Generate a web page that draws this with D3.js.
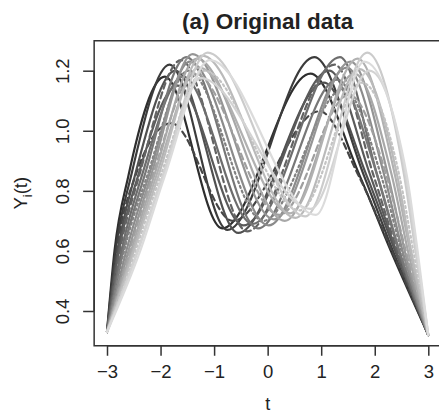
<!DOCTYPE html>
<html>
<head>
<meta charset="utf-8">
<script src="https://cdn.jsdelivr.net/npm/d3@7"></script>
<style>
  body { margin: 0; background: #fff; }
  text { font-family: "Liberation Sans", Arial, sans-serif; fill: #222; }
</style>
</head>
<body>
<div id="chart"></div>
<script>
const width = 439;
const height = 416;

const xTicks = [-3, -2, -1, 0, 1, 2, 3];
const yTicks = [0.4, 0.6, 0.8, 1.0, 1.2];

// one row per curve, dark (early) to light (late)
const grays = ["#2e2e2e", "#3c3c3c", "#454545", "#505050", "#5a5a5a", "#636363", "#6d6d6d",
  "#777777", "#818181", "#8b8b8b", "#959595", "#9f9f9f", "#a8a8a8", "#b1b1b1",
  "#bababa", "#c3c3c3", "#cbcbcb", "#d3d3d3", "#dbdbdb"];
const dashes = ["", "", "6,4", "", "", "6,4", "", "", "2,3", "", "", "6,4", "", "",
  "", "2,3", "", "", ""];

const curveT = [
  [-3, -2.86, -2.60, -1.92, -0.85, 0.80, 1.72, 2.30, 3],
  [-3, -2.84, -2.55, -1.83, -0.75, 0.87, 1.80, 2.34, 3],
  [-3, -2.82, -2.47, -1.80, -0.65, 0.97, 1.70, 2.32, 3],
  [-3, -2.80, -2.48, -1.72, -0.55, 1.05, 1.85, 2.38, 3],
  [-3, -2.78, -2.42, -1.68, -0.45, 1.15, 1.92, 2.40, 3],
  [-3, -2.76, -2.40, -1.62, -0.38, 1.25, 1.98, 2.42, 3],
  [-3, -2.73, -2.35, -1.58, -0.28, 1.35, 2.05, 2.45, 3],
  [-3, -2.70, -2.30, -1.52, -0.18, 1.30, 2.05, 2.46, 3],
  [-3, -2.68, -2.25, -1.48, -0.08, 1.42, 2.12, 2.50, 3],
  [-3, -2.64, -2.22, -1.45, 0.02, 1.48, 2.18, 2.52, 3],
  [-3, -2.60, -2.18, -1.40, 0.12, 1.55, 2.25, 2.56, 3],
  [-3, -2.58, -2.15, -1.36, 0.22, 1.52, 2.22, 2.58, 3],
  [-3, -2.55, -2.12, -1.32, 0.32, 1.62, 2.32, 2.62, 3],
  [-3, -2.52, -2.08, -1.28, 0.42, 1.68, 2.38, 2.66, 3],
  [-3, -2.50, -2.04, -1.22, 0.52, 1.72, 2.42, 2.68, 3],
  [-3, -2.47, -2.00, -1.18, 0.60, 1.76, 2.46, 2.72, 3],
  [-3, -2.43, -1.96, -1.12, 0.70, 1.86, 2.55, 2.76, 3],
  [-3, -2.42, -1.95, -1.25, 0.80, 1.90, 2.58, 2.78, 3],
  [-3, -2.38, -1.92, -1.08, 0.90, 1.80, 2.60, 2.80, 3]
];
const curveY = [
  [0.33, 0.6, 0.85, 1.180, 0.675, 1.190, 0.85, 0.6, 0.32],
  [0.33, 0.6, 0.85, 1.220, 0.670, 1.245, 0.85, 0.6, 0.32],
  [0.33, 0.6, 0.85, 1.025, 0.700, 1.065, 0.85, 0.6, 0.32],
  [0.33, 0.6, 0.85, 1.200, 0.660, 1.160, 0.85, 0.6, 0.32],
  [0.33, 0.6, 0.85, 1.150, 0.685, 1.200, 0.85, 0.6, 0.32],
  [0.33, 0.6, 0.85, 1.235, 0.665, 1.220, 0.85, 0.6, 0.32],
  [0.33, 0.6, 0.85, 1.180, 0.690, 1.245, 0.85, 0.6, 0.32],
  [0.33, 0.6, 0.85, 1.245, 0.675, 1.170, 0.85, 0.6, 0.32],
  [0.33, 0.6, 0.85, 1.200, 0.700, 1.140, 0.85, 0.6, 0.32],
  [0.33, 0.6, 0.85, 1.230, 0.685, 1.210, 0.85, 0.6, 0.32],
  [0.33, 0.6, 0.85, 1.255, 0.705, 1.230, 0.85, 0.6, 0.32],
  [0.33, 0.6, 0.85, 1.190, 0.720, 1.120, 0.85, 0.6, 0.32],
  [0.33, 0.6, 0.85, 1.240, 0.700, 1.190, 0.85, 0.6, 0.32],
  [0.33, 0.6, 0.85, 1.210, 0.725, 1.240, 0.85, 0.6, 0.32],
  [0.33, 0.6, 0.85, 1.250, 0.710, 1.205, 0.85, 0.6, 0.32],
  [0.33, 0.6, 0.85, 1.200, 0.735, 1.160, 0.85, 0.6, 0.32],
  [0.33, 0.6, 0.85, 1.260, 0.715, 1.260, 0.85, 0.6, 0.32],
  [0.33, 0.6, 0.85, 1.175, 0.740, 1.200, 0.85, 0.6, 0.32],
  [0.33, 0.6, 0.85, 1.235, 0.720, 1.230, 0.85, 0.6, 0.32]
];

const svg = d3.select("#chart")
    .append("svg")
    .attr("width", width)
    .attr("height", height);

// R style: data range padded by 4% on each side
const x = d3.scaleLinear().domain([-3, 3]).range([107, 428.3]);
const y = d3.scaleLinear().domain([0.4, 1.2]).range([311, 70.7]);
const xPad = [-3.24, 3.24];
const yPad = [0.2843, 1.2997];

const line = d3.line()
    .x(d => x(d[0]))
    .y(d => y(d[1]))
    .curve(d3.curveMonotoneX);

curveT.forEach((ts, i) => {
    const pts = ts.map((t, j) => [t, curveY[i][j]]);
    svg.append("path")
        .datum(pts)
        .attr("fill", "none")
        .attr("stroke", grays[i])
        .attr("stroke-width", 2.2)
        .attr("stroke-linecap", "round")
        .attr("stroke-linejoin", "round")
        .attr("stroke-dasharray", dashes[i] || null)
        .attr("d", line);
});

// box
svg.append("rect")
    .attr("x", x(xPad[0]))
    .attr("y", y(yPad[1]))
    .attr("width", x(xPad[1]) - x(xPad[0]))
    .attr("height", y(yPad[0]) - y(yPad[1]))
    .attr("fill", "none")
    .attr("stroke", "#333")
    .attr("stroke-width", 1.5);

// x axis
const xAxis = svg.append("g")
    .attr("transform", `translate(0, ${y(yPad[0])})`)
    .call(d3.axisBottom(x).tickValues(xTicks).tickSize(10).tickPadding(9)
        .tickFormat(d => d < 0 ? "\u2212" + Math.abs(d) : d));
xAxis.select(".domain").attr("d", `M${x(-3)},0H${x(3)}`).attr("stroke", "#333").attr("stroke-width", 1.5);
xAxis.selectAll(".tick line").attr("stroke", "#333").attr("stroke-width", 1.5);
xAxis.selectAll(".tick text")
    .style("font-size", "18.5px")
    .style("font-family", "Liberation Sans, Arial, sans-serif")
    .attr("fill", "#222");

// y axis, labels parallel to the axis
const yAxis = svg.append("g")
    .attr("transform", `translate(${x(xPad[0])}, 0)`)
    .call(d3.axisLeft(y).tickValues(yTicks).tickSize(11).tickFormat(d3.format(".1f")));
yAxis.select(".domain").attr("d", `M0,${y(0.4)}V${y(1.2)}`).attr("stroke", "#333").attr("stroke-width", 1.5);
yAxis.selectAll(".tick line").attr("stroke", "#333").attr("stroke-width", 1.5);
yAxis.selectAll(".tick text")
    .attr("x", null).attr("dy", null)
    .attr("text-anchor", "middle")
    .attr("transform", "translate(-25,0) rotate(-90)")
    .style("font-size", "18.5px")
    .style("font-family", "Liberation Sans, Arial, sans-serif")
    .attr("fill", "#222");

// title and axis labels
svg.append("text")
    .attr("x", (x(xPad[0]) + x(xPad[1])) / 2)
    .attr("y", 28.5)
    .attr("text-anchor", "middle")
    .style("font-size", "22.5px")
    .style("font-weight", "bold")
    .text("(a) Original data");

svg.append("text")
    .attr("x", x(0))
    .attr("y", 410)
    .attr("text-anchor", "middle")
    .style("font-size", "18px")
    .text("t");

const yLab = svg.append("text")
    .attr("transform", `translate(27, ${(y(yPad[0]) + y(yPad[1])) / 2}) rotate(-90)`)
    .attr("text-anchor", "middle")
    .style("font-size", "18.5px");
yLab.append("tspan").text("Y");
yLab.append("tspan").attr("dy", 5).style("font-size", "13px").text("i");
yLab.append("tspan").attr("dy", -5).text("(t)");
</script>
</body>
</html>
